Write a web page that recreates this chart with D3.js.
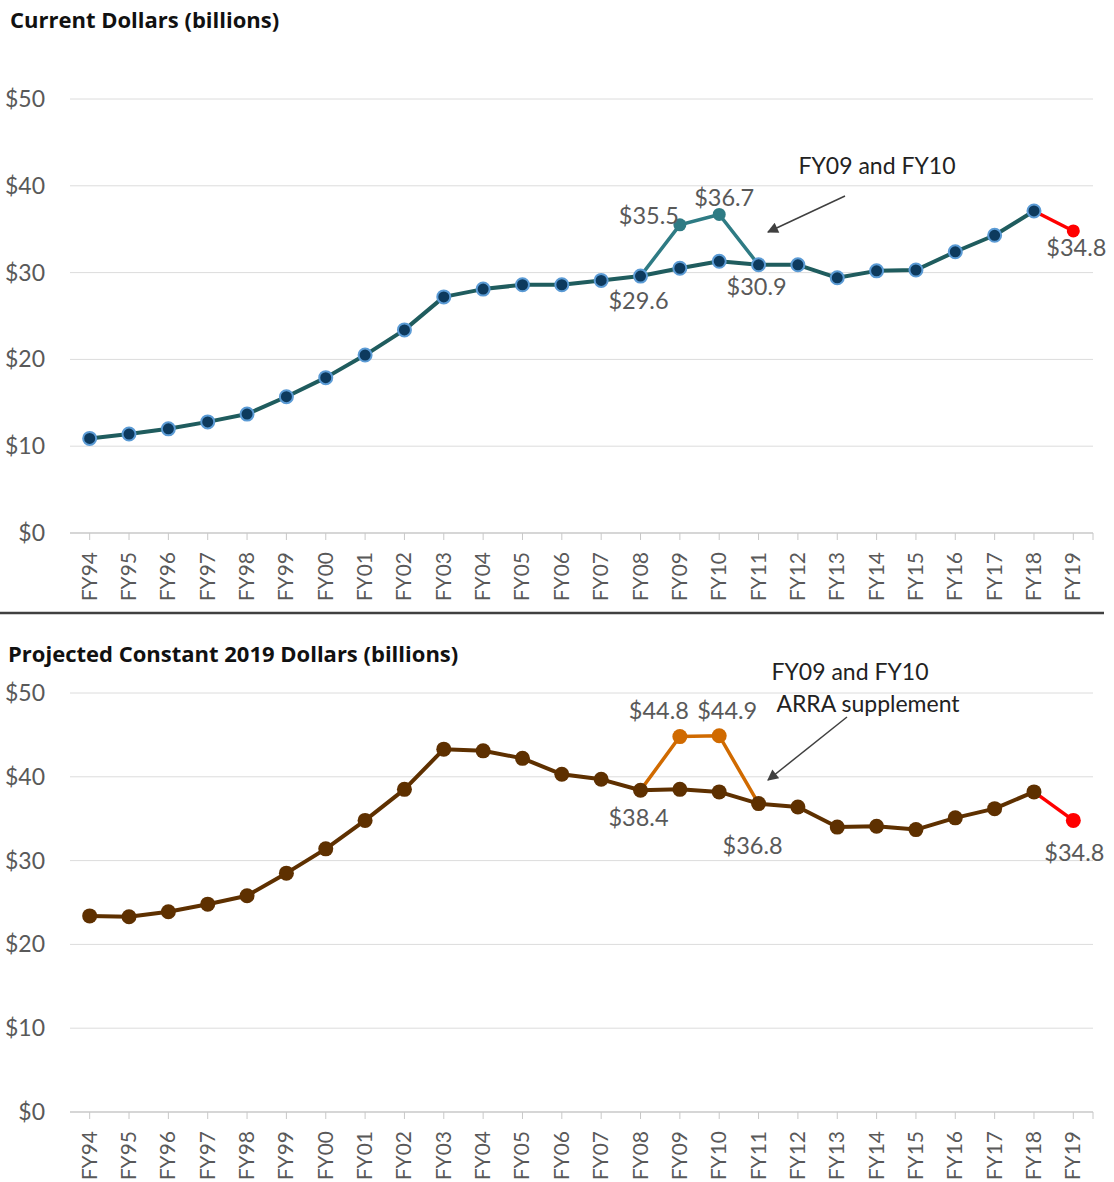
<!DOCTYPE html>
<html>
<head>
<meta charset="utf-8">
<script src="https://cdn.jsdelivr.net/npm/d3@7"></script>
<style>
  body { margin: 0; background: #fff; }
  svg text { font-family: Lato, "Open Sans", sans-serif; }
</style>
</head>
<body>
<svg id="chart" width="1114" height="1182"></svg>
<script>
// fiscal years
var years = ["FY94","FY95","FY96","FY97","FY98","FY99","FY00","FY01","FY02","FY03","FY04","FY05","FY06",
  "FY07","FY08","FY09","FY10","FY11","FY12","FY13","FY14","FY15","FY16","FY17","FY18","FY19"];

// current dollars (billions)
var current = [10.9,11.4,12.0,12.8,13.7,15.7,17.9,20.5,23.4,27.2,28.1,28.6,28.6,
  29.1,29.6,30.5,31.3,30.9,30.9,29.4,30.2,30.3,32.4,34.3,37.1,34.8];
// with the ARRA supplement FY08-FY11
var currentArraYears = ["FY08","FY09","FY10","FY11"];
var currentArra = [29.6,35.5,36.7,30.9];

// projected constant 2019 dollars (billions)
var constant = [23.4,23.3,23.9,24.8,25.8,28.5,31.4,34.8,38.5,43.3,43.1,42.2,40.3,
  39.7,38.4,38.5,38.2,36.8,36.4,34.0,34.1,33.7,35.1,36.2,38.2,34.8];
var constantArraYears = ["FY08","FY09","FY10","FY11"];
var constantArra = [38.4,44.8,44.9,36.8];

var yTicks = [0,10,20,30,40,50];

var svg = d3.select("#chart");

var x = d3.scaleBand()
  .domain(years)
  .range([70, 1093]);
var cx = function(d) { return x(d) + x.bandwidth() / 2; };

function panel(opt) {
  var y = d3.scaleLinear().domain([0, 50]).range([opt.bottom, opt.top]);
  var g = svg.append("g");

  // title
  g.append("text")
    .attr("x", opt.titleX).attr("y", opt.titleY)
    .style("font-family", "'Open Sans', sans-serif")
    .style("font-size", "22px").style("font-weight", "bold").attr("fill", "#111")
    .text(opt.title);

  // gridlines + y labels
  g.selectAll(".grid").data(yTicks).enter().append("line")
    .attr("x1", 70).attr("x2", 1093)
    .attr("y1", function(d) { return y(d); }).attr("y2", function(d) { return y(d); })
    .attr("stroke", function(d) { return d == 0 ? "#c8c8c8" : "#dcdcdc"; })
    .attr("stroke-width", d => d == 0 ? 1.5 : 1);
  g.selectAll(".ylab").data(yTicks).enter().append("text")
    .attr("x", 45).attr("y", function(d) { return y(d) + 8; })
    .attr("text-anchor", "end").style("font-size", "23px").attr("fill", "#595959")
    .text(function(d) { return "$" + d; });

  // x ticks and labels
  g.selectAll(".xt").data(years).enter().append("line")
    .attr("x1", cx).attr("x2", cx)
    .attr("y1", opt.bottom).attr("y2", opt.bottom + 7)
    .attr("stroke", "#c8c8c8");
  g.append("line").attr("x1", 1093).attr("x2", 1093)
    .attr("y1", opt.bottom).attr("y2", opt.bottom + 7).attr("stroke", "#c8c8c8");
  g.selectAll(".xl").data(years).enter().append("text")
    .attr("transform", function(d) { return "translate(" + (cx(d) + 7) + "," + (opt.bottom + 19) + ") rotate(-90)"; })
    .attr("text-anchor", "end").style("font-size", "21px").attr("fill", "#595959")
    .text(function(d) { return d; });

  var line = d3.line().x(function(d) { return cx(d[0]); }).y(function(d) { return y(d[1]); });

  // ARRA segment
  var arra = opt.arraYears.map(function(d, i) { return [d, opt.arra[i]]; });
  g.append("path").datum(arra).attr("d", line)
    .attr("fill", "none").attr("stroke", opt.arraColor).attr("stroke-width", 3.5);

  // main line (up to FY18), then red segment
  var main = years.map(function(d, i) { return [d, opt.values[i]]; });
  var n = main.length;
  g.append("path").datum(main.slice(0, n - 1)).attr("d", line)
    .attr("fill", "none").attr("stroke", opt.lineColor).attr("stroke-width", 4)
    .attr("stroke-linejoin", "round");
  g.append("path").datum(main.slice(n - 2)).attr("d", line)
    .attr("fill", "none").attr("stroke", "#ff0000").attr("stroke-width", 3.5);

  // markers
  g.selectAll(".am").data(arra.slice(1, 3)).enter().append("circle")
    .attr("cx", function(d) { return cx(d[0]); }).attr("cy", function(d) { return y(d[1]); })
    .attr("r", opt.r).attr("fill", opt.arraColor);
  g.selectAll(".mm").data(main.slice(0, n - 1)).enter().append("circle")
    .attr("cx", function(d) { return cx(d[0]); }).attr("cy", function(d) { return y(d[1]); })
    .attr("r", opt.r).attr("fill", opt.markerFill)
    .attr("stroke", opt.markerStroke).attr("stroke-width", opt.markerStroke == "none" ? 0 : 2);
  g.append("circle").attr("cx", cx(main[n - 1][0])).attr("cy", y(main[n - 1][1]))
    .attr("r", opt.r).attr("fill", "#ff0000");

  // data labels
  g.selectAll(".dl").data(opt.labels).enter().append("text")
    .attr("x", function(d) { return cx(d.year) + d.dx; })
    .attr("y", function(d) { return y(d.value) + d.dy; })
    .attr("text-anchor", "middle").style("font-size", "23.5px").attr("fill", "#595959")
    .text(function(d) { return "$" + d.value.toFixed(1); });

  // annotation
  opt.note.forEach(function(t, i) {
    g.append("text").attr("x", opt.noteX[i]).attr("y", opt.noteY + i * 32)
      .attr("text-anchor", "middle").style("font-size", "23px").attr("fill", "#222")
      .text(t);
  });
  g.append("line")
    .attr("x1", opt.arrow[0]).attr("y1", opt.arrow[1])
    .attr("x2", opt.arrow[2]).attr("y2", opt.arrow[3])
    .attr("stroke", "#404040").attr("stroke-width", 1.5)
    .attr("marker-end", "url(#arrowhead)");
}

svg.append("defs").append("marker")
  .attr("id", "arrowhead")
  .attr("viewBox", "0 0 10 10").attr("refX", 9).attr("refY", 5)
  .attr("markerWidth", 13).attr("markerHeight", 11).attr("markerUnits", "userSpaceOnUse")
  .attr("orient", "auto")
  .append("path").attr("d", "M0,0 L10,5 L0,10 z").attr("fill", "#404040");

panel({
  title: "Current Dollars (billions)", titleX: 10, titleY: 28,
  top: 99, bottom: 533,
  values: current, arraYears: currentArraYears, arra: currentArra,
  lineColor: "#1f5c5e", arraColor: "#2e7b84", markerFill: "#0d3a5e", markerStroke: "#5b9bd5", r: 6.5,
  labels: [
    {year: "FY09", value: 35.5, dx: -31, dy: -1},
    {year: "FY10", value: 36.7, dx: 5, dy: -8},
    {year: "FY08", value: 29.6, dx: -2, dy: 33},
    {year: "FY11", value: 30.9, dx: -2, dy: 30},
    {year: "FY19", value: 34.8, dx: 3, dy: 25}
  ],
  note: ["FY09 and FY10"], noteX: [877], noteY: 174,
  arrow: [845, 196, 768, 232]
});

// divider
svg.append("line").attr("x1", 0).attr("x2", 1104).attr("y1", 613).attr("y2", 613)
  .attr("stroke", "#404040").attr("stroke-width", 2.5);

panel({
  title: "Projected Constant 2019 Dollars (billions)", titleX: 8, titleY: 662,
  top: 693, bottom: 1112,
  values: constant, arraYears: constantArraYears, arra: constantArra,
  lineColor: "#5e3000", arraColor: "#d06a00", markerFill: "#5e3000", markerStroke: "none", r: 7.5,
  labels: [
    {year: "FY09", value: 44.8, dx: -21, dy: -18},
    {year: "FY10", value: 44.9, dx: 8, dy: -17},
    {year: "FY08", value: 38.4, dx: -2, dy: 36},
    {year: "FY11", value: 36.8, dx: -6, dy: 50},
    {year: "FY19", value: 34.8, dx: 1, dy: 41}
  ],
  note: ["FY09 and FY10", "ARRA supplement"], noteX: [850, 868], noteY: 680,
  arrow: [847, 717, 768, 780]
});
</script>
</body>
</html>
